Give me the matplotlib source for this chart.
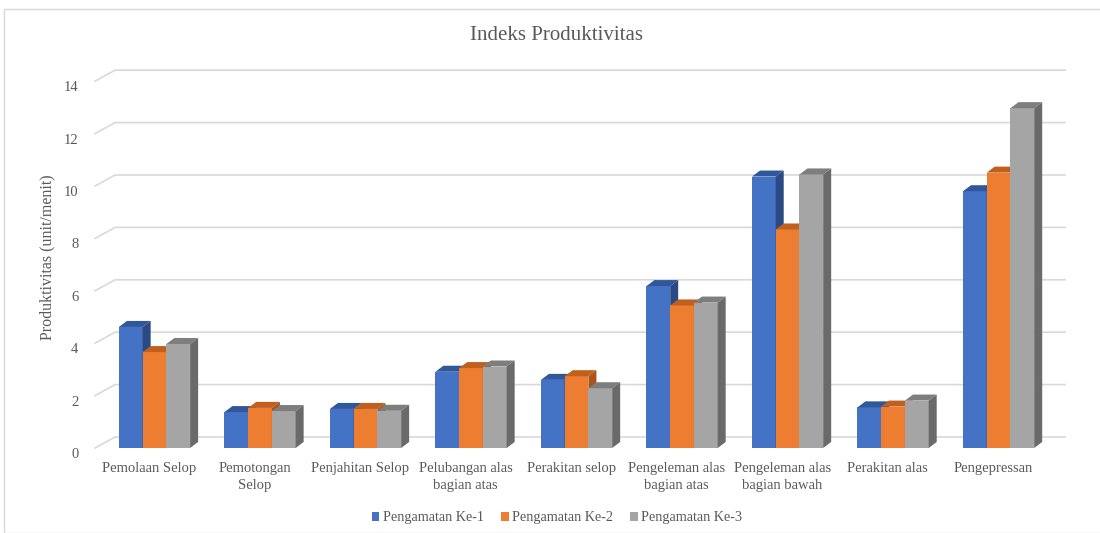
import numpy as np
import matplotlib.pyplot as plt
from matplotlib.patches import Polygon, Patch, Rectangle

# Values
categories = ["Pemolaan Selop", "Pemotongan\nSelop", "Penjahitan Selop",
              "Pelubangan alas\nbagian atas", "Perakitan selop",
              "Pengeleman alas\nbagian atas", "Pengeleman alas\nbagian bawah",
              "Perakitan alas", "Pengepressan"]
series_names = ["Pengamatan Ke-1", "Pengamatan Ke-2", "Pengamatan Ke-3"]
ke1 = [4.62, 1.37, 1.49, 2.91, 2.60, 6.18, 10.36, 1.55, 9.80]
ke2 = [3.66, 1.53, 1.49, 3.05, 2.74, 5.44, 8.34, 1.58, 10.51]
ke3 = [3.97, 1.41, 1.42, 3.11, 2.28, 5.55, 10.44, 1.81, 12.97]
yticks = [0, 2, 4, 6, 8, 10, 12, 14]

front_cols = ["#4472C4", "#ED7D31", "#A5A5A5"]
top_cols = ["#31579B", "#C0601F", "#7E7E7E"]
side_cols = ["#2B4A83", "#A9541B", "#6A6A6A"]
text_col = "#595959"

plt.rcParams['font.family'] = ['Liberation Serif', 'DejaVu Serif']


def cube(ax, x0, w, h, dx, dy, k, z):
    # front face, top face and right side face of one bar
    ax.add_patch(Rectangle((x0, 0), w, h, facecolor=front_cols[k],
                           edgecolor='none', zorder=z))
    top = [(x0, h), (x0 + w, h), (x0 + w + dx, h + dy), (x0 + dx, h + dy)]
    ax.add_patch(Polygon(top, closed=True, facecolor=top_cols[k],
                         edgecolor='none', zorder=z))
    side = [(x0 + w, 0), (x0 + w + dx, dy), (x0 + w + dx, h + dy), (x0 + w, h)]
    ax.add_patch(Polygon(side, closed=True, facecolor=side_cols[k],
                         edgecolor='none', zorder=z))


fig = plt.figure(figsize=(11, 5.33), dpi=100)
fig.patches.append(Rectangle((4 / 1100, 0), 1.2, 1 - 9 / 533,
                             transform=fig.transFigure, fill=False,
                             edgecolor='#D9D9D9', linewidth=1.0))

ax = fig.add_axes([95 / 1100, 1 - 448 / 533, 950 / 1100, 366.8 / 533])
xmin, xmax = -0.564, 8.44
ax.set_xlim(xmin, xmax)
ax.set_ylim(0, 14)
for s in ax.spines.values():
    s.set_visible(False)

# wall / floor depth in data units
wdx, wdy = 0.19, 0.42
bdx, bdy = 0.076, 0.23

for v in yticks:
    ax.plot([xmin, xmin + wdx, xmax + wdx], [v, v + wdy, v + wdy],
            color='#D9D9D9', linewidth=1.2, clip_on=False, zorder=1)

bw = 0.225
data = [ke1, ke2, ke3]
x = np.arange(len(categories))
for i in range(len(categories)):
    for k in range(3):
        x0 = x[i] - 1.5 * bw + k * bw
        cube(ax, x0, bw, data[k][i], bdx, bdy, k, 3 + k)

ax.set_yticks(yticks)
ax.set_yticklabels([str(v) for v in yticks])
ax.set_xticks(x - 0.05)
ax.set_xticklabels(categories, linespacing=1.45)
ax.tick_params(axis='y', length=0, pad=12, labelsize=10.5, labelcolor=text_col)
ax.tick_params(axis='x', length=0, pad=10, labelsize=10.5, labelcolor=text_col)
for lab in ax.get_yticklabels():
    lab.set_verticalalignment('top')

fig.text(47 / 1100, 1 - 257 / 533, "Produktivitas (unit/menit)", rotation=90,
         ha='center', va='center', fontsize=11.5, color=text_col)
fig.text(556 / 1100, 1 - 36 / 533, "Indeks Produktivitas", ha='center',
         va='center', fontsize=15, color=text_col)

handles = [Patch(facecolor=c, edgecolor='none') for c in front_cols]
fig.legend(handles, series_names, loc='center', ncol=3,
           bbox_to_anchor=(557 / 1100, 1 - 518 / 533), frameon=False,
           handlelength=0.55, handleheight=0.55, handletextpad=0.25,
           columnspacing=1.2, labelcolor=text_col, fontsize=10.2)

fig.savefig("out.png", dpi=100)
